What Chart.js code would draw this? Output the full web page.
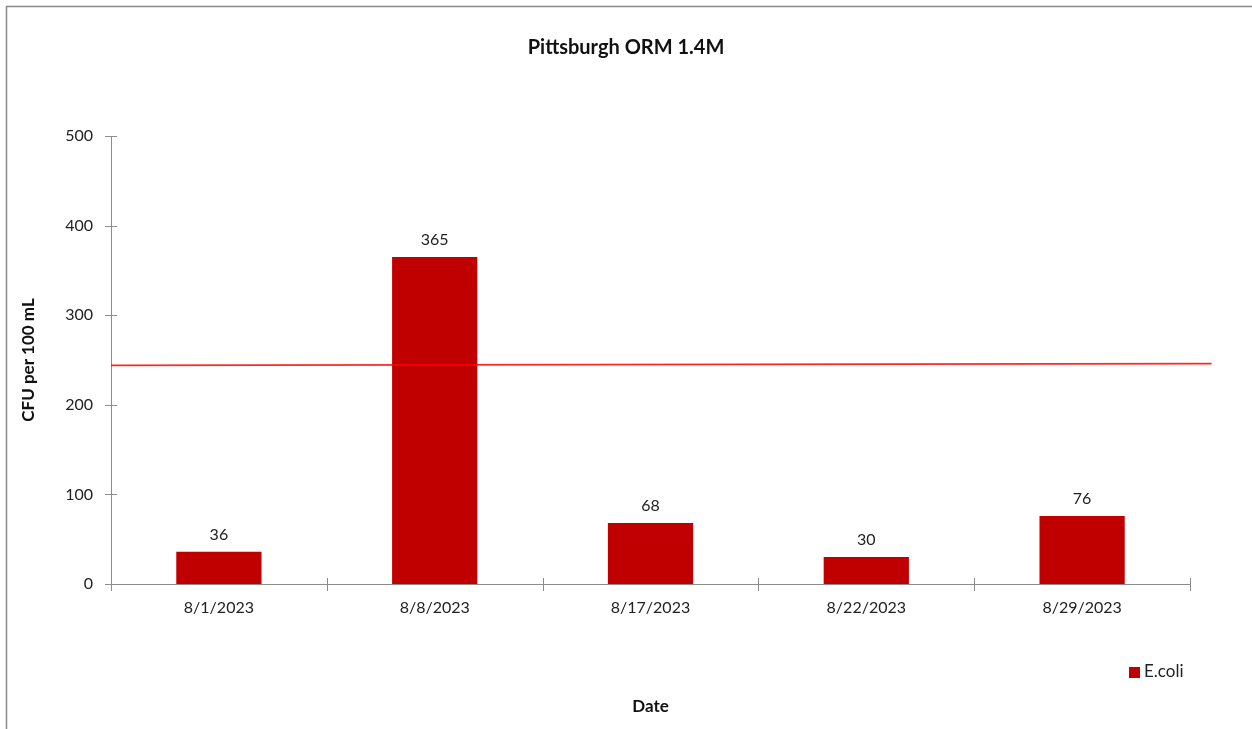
<!DOCTYPE html>
<html>
<head>
<meta charset="utf-8">
<script src="https://cdn.jsdelivr.net/npm/chart.js@4/dist/chart.umd.min.js"></script>
<style>
html,body{margin:0;padding:0;background:#fff;}
#wrap{width:1252px;height:729px;position:relative;}
</style>
</head>
<body>
<div id="wrap"><canvas id="c" width="1252" height="729"></canvas></div>
<script>
const categories = ['8/1/2023', '8/8/2023', '8/17/2023', '8/22/2023', '8/29/2023'];
const ecoliValues = [36, 365, 68, 30, 76];
const yTicks = [0, 100, 200, 300, 400, 500];
const thresholdX = [0, 5.1];
const thresholdY = [244, 246];

const FONT = 'Lato, "Open Sans", sans-serif';
const BAR_COLOR = '#C00000';
const AXIS_COLOR = '#8c8c8c';

const framePlugin = {
  id: 'frame',
  beforeDraw(chart) {
    const ctx = chart.ctx;
    ctx.save();
    ctx.fillStyle = '#fff';
    ctx.fillRect(0, 0, chart.width, chart.height);
    ctx.strokeStyle = '#8a8a8a';
    ctx.lineWidth = 1.5;
    ctx.beginPath();
    ctx.moveTo(6.5, chart.height + 2);
    ctx.lineTo(6.5, 6.5);
    ctx.lineTo(chart.width + 2, 6.5);
    ctx.stroke();
    ctx.restore();
  }
};

const tickPlugin = {
  id: 'crossTicks',
  afterDraw(chart) {
    const ctx = chart.ctx;
    const xs = chart.scales.x, ys = chart.scales.y;
    ctx.save();
    ctx.strokeStyle = AXIS_COLOR;
    ctx.lineWidth = 1;
    ctx.beginPath();
    ys.ticks.forEach(t => {
      const py = Math.round(ys.getPixelForValue(t.value)) + 0.5;
      ctx.moveTo(xs.left - 6, py);
      ctx.lineTo(xs.left + 6, py);
    });
    for (let i = 0; i <= categories.length; i++) {
      const px = Math.round(xs.getPixelForValue(i - 0.5)) + 0.5;
      ctx.moveTo(px, ys.bottom - 6);
      ctx.lineTo(px, ys.bottom + 7);
    }
    ctx.stroke();
    ctx.restore();
  }
};

const labelPlugin = {
  id: 'valueLabels',
  afterDatasetsDraw(chart) {
    const ctx = chart.ctx;
    const meta = chart.getDatasetMeta(0);
    ctx.save();
    ctx.font = '16px ' + FONT;
    ctx.fillStyle = '#222';
    ctx.textAlign = 'center';
    ctx.textBaseline = 'bottom';
    meta.data.forEach((bar, i) => {
      ctx.fillText(String(ecoliValues[i]), bar.x, bar.y - 9);
    });
    ctx.restore();
  }
};

const legendPlugin = {
  id: 'customLegend',
  afterDraw(chart) {
    const ctx = chart.ctx;
    const ds = chart.data.datasets[0];
    ctx.save();
    ctx.fillStyle = ds.backgroundColor;
    ctx.fillRect(1129, 667, 11, 11);
    ctx.font = '17px ' + FONT;
    ctx.fillStyle = '#222';
    ctx.textAlign = 'left';
    ctx.textBaseline = 'middle';
    ctx.fillText(ds.label, 1144, 672);
    ctx.restore();
  }
};

new Chart(document.getElementById('c'), {
  data: {
    labels: categories,
    datasets: [
      {
        type: 'bar',
        label: 'E.coli',
        data: ecoliValues,
        backgroundColor: BAR_COLOR,
        borderWidth: 0,
        grouped: false,
        barPercentage: 0.395,
        categoryPercentage: 1.0,
        xAxisID: 'x',
        yAxisID: 'y',
        order: 2
      },
      {
        type: 'line',
        label: 'Threshold',
        data: thresholdX.map((x, i) => ({ x: x, y: thresholdY[i] })),
        borderColor: 'rgba(255,0,0,0.85)',
        borderWidth: 1.6,
        pointRadius: 0,
        fill: false,
        clip: false,
        xAxisID: 'x2',
        yAxisID: 'y',
        order: 1
      }
    ]
  },
  options: {
    responsive: false,
    animation: false,
    events: [],
    layout: { padding: { left: 0, right: 0, top: 0, bottom: 0 } },
    plugins: {
      legend: { display: false },
      tooltip: { enabled: false },
      title: {
        display: true,
        text: 'Pittsburgh ORM 1.4M',
        color: '#111',
        font: { family: FONT, size: 20, weight: 'bold' },
        padding: { top: 36, bottom: 76 }
      }
    },
    scales: {
      x: {
        type: 'category',
        offset: true,
        grid: { display: false, drawTicks: false },
        border: { display: true, color: AXIS_COLOR, width: 1 },
        ticks: { color: '#222', font: { family: FONT, size: 16 }, padding: 14, maxRotation: 0 },
        title: {
          display: true,
          text: 'Date',
          color: '#111',
          font: { family: FONT, size: 17, weight: 'bold' },
          padding: { top: 0, bottom: 12 }
        },
        afterFit(scale) { scale.height = 145; }
      },
      x2: {
        type: 'linear',
        display: false,
        min: 0,
        max: 5
      },
      yRight: {
        type: 'linear',
        position: 'right',
        display: true,
        grid: { display: false, drawTicks: false },
        border: { display: false },
        ticks: { display: false },
        afterFit(scale) { scale.width = 62; }
      },
      y: {
        type: 'linear',
        position: 'left',
        min: 0,
        max: 500,
        afterBuildTicks(scale) { scale.ticks = yTicks.map(v => ({ value: v })); },
        grid: { display: false, drawTicks: false },
        border: { display: true, color: AXIS_COLOR, width: 1 },
        ticks: { color: '#222', font: { family: FONT, size: 16 }, padding: 18 },
        title: {
          display: true,
          text: 'CFU per 100 mL',
          color: '#111',
          font: { family: FONT, size: 17, weight: 'bold' },
          padding: { top: 18, bottom: 0 }
        },
        afterFit(scale) { scale.width = 111; }
      }
    }
  },
  plugins: [framePlugin, tickPlugin, labelPlugin, legendPlugin]
});
</script>
</body>
</html>
